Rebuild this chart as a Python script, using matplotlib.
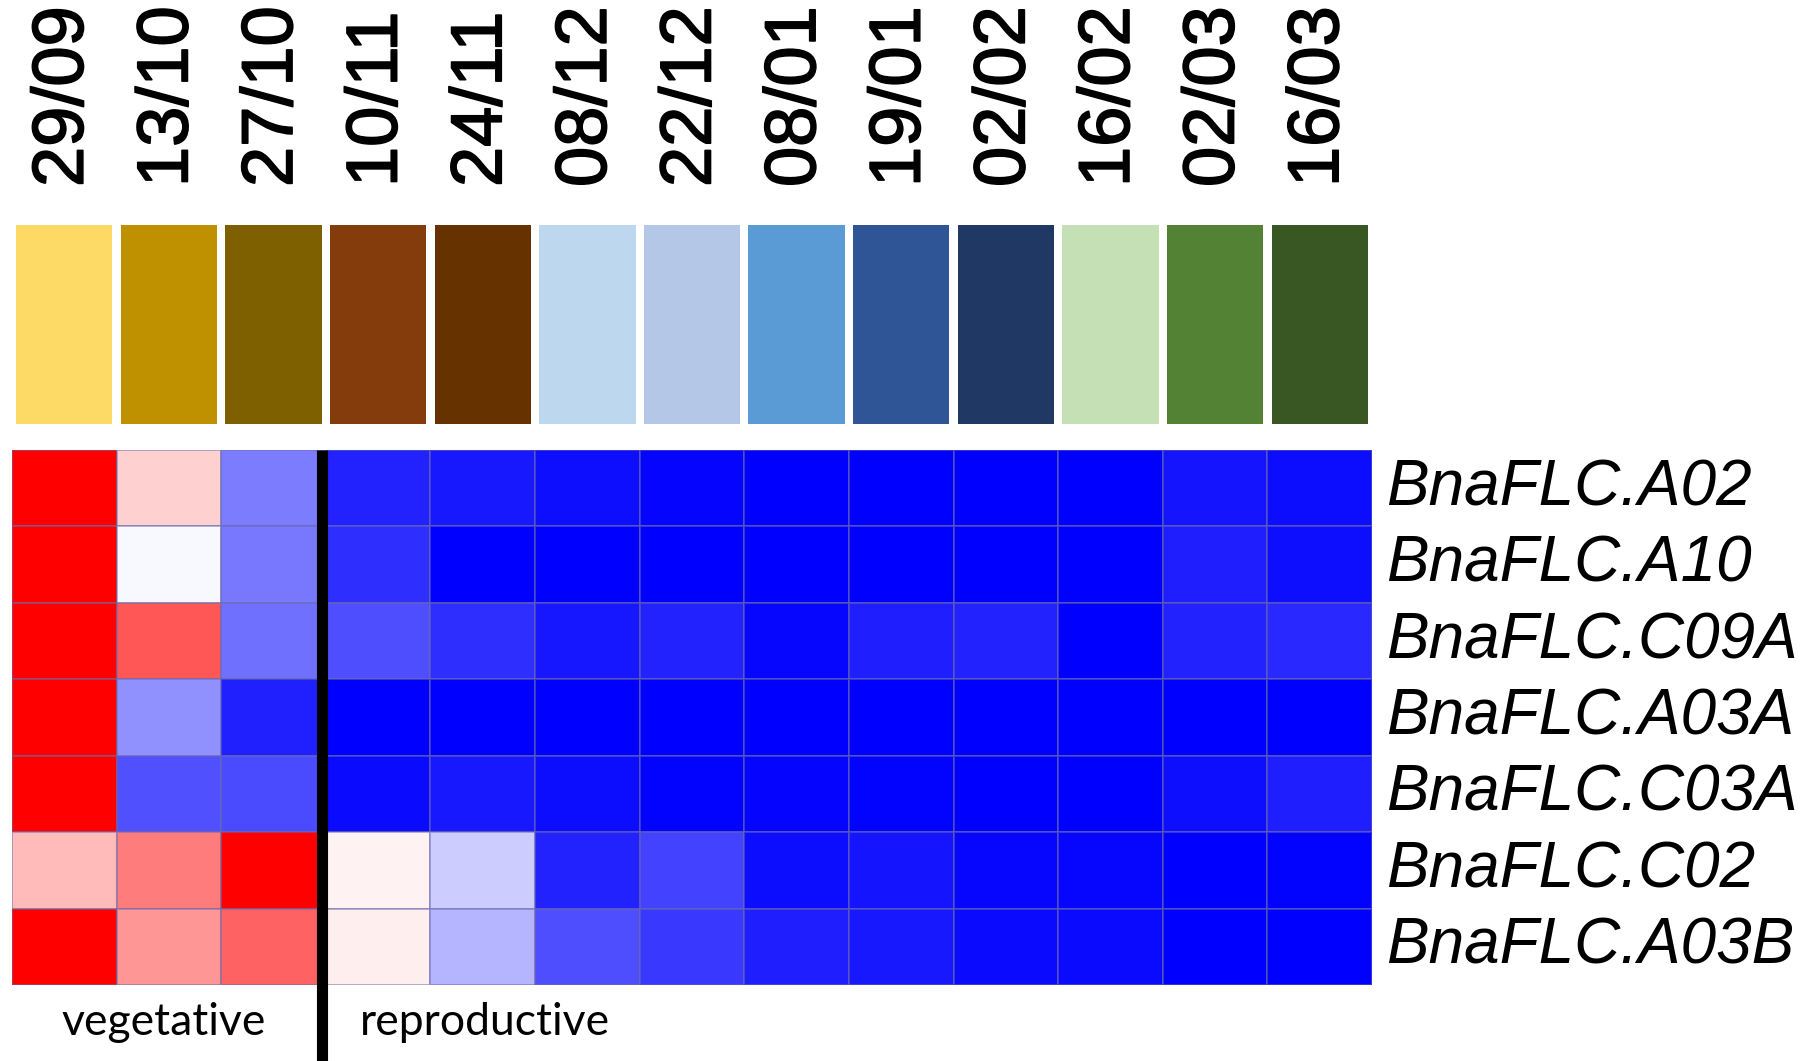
import matplotlib

matplotlib.use("Agg")
import matplotlib.pyplot as plt
import matplotlib.patheffects as pe
import numpy as np


# sampling dates (day/month) and the colour key used for each date
DATES = ["29/09", "13/10", "27/10", "10/11", "24/11", "08/12", "22/12",
         "08/01", "19/01", "02/02", "16/02", "02/03", "16/03"]
DATE_COLORS = ["#FDD966", "#BF9000", "#7F6000", "#843C0C", "#663300",
               "#BDD7EE", "#B4C7E7", "#5B9BD5", "#2F5597", "#203864",
               "#C5E0B4", "#548235", "#385723"]

GENES = ["BnaFLC.A02", "BnaFLC.A10", "BnaFLC.C09A", "BnaFLC.A03A",
         "BnaFLC.C03A", "BnaFLC.C02", "BnaFLC.A03B"]

# scaled relative expression, -1 (lowest) to 1 (highest), one row per gene
A02 = [1.0, 0.18, -0.51, -0.86, -0.90, -0.94, -0.98, -1.0, -1.0, -1.0, -1.0, -0.92, -0.95]
A10 = [1.0, -0.03, -0.53, -0.82, -1.0, -1.0, -1.0, -1.0, -1.0, -1.0, -1.0, -0.88, -0.94]
C09A = [1.0, 0.66, -0.56, -0.69, -0.82, -0.91, -0.86, -0.97, -0.88, -0.86, -1.0, -0.86, -0.84]
A03A = [1.0, -0.43, -0.87, -1.0, -1.0, -1.0, -1.0, -1.0, -1.0, -1.0, -1.0, -1.0, -1.0]
C03A = [1.0, -0.68, -0.71, -0.96, -0.90, -0.95, -0.99, -0.98, -0.99, -1.0, -1.0, -0.94, -0.88]
C02 = [0.27, 0.51, 1.0, 0.05, -0.20, -0.86, -0.74, -0.95, -0.92, -0.97, -0.97, -1.0, -0.99]
A03B = [1.0, 0.41, 0.61, 0.07, -0.29, -0.69, -0.78, -0.88, -0.90, -0.96, -0.96, -1.0, -1.0]

STAGES = ["vegetative", "reproductive"]
STAGE_SPLIT = 3  # first reproductive sample index

W, H = 1811, 1061
fig = plt.figure(figsize=(W / 100, H / 100), dpi=100)
fig.patch.set_facecolor("white")

n_dates = len(DATES)
expression = np.array([A02, A10, C09A, A03A, C03A, C02, A03B])

# colour key row
key_ax = fig.add_axes([12 / W, (H - 424) / H, 1360 / W, 199 / H])
key_ax.bar(np.arange(n_dates) + 0.5, 1, width=0.92, color=DATE_COLORS)
key_ax.set_xlim(0, n_dates)
key_ax.set_ylim(0, 1)
key_ax.axis("off")
heavier = [pe.withStroke(linewidth=1.2, foreground="black")]
for i, date in enumerate(DATES):
    key_ax.text(i + 0.5, 1 + 38 / 199, date, rotation=90, ha="center", va="bottom",
                fontsize=52, family="Liberation Sans", clip_on=False,
                path_effects=heavier)

# heatmap
heat_ax = fig.add_axes([12 / W, (H - 985) / H, 1360 / W, 535 / H])
heat_ax.pcolormesh(expression, cmap="bwr", vmin=-1, vmax=1,
                   edgecolors=(0.42, 0.42, 0.68, 0.5), linewidth=1.3)
heat_ax.set_xlim(0, n_dates)
heat_ax.set_ylim(len(GENES), 0)
heat_ax.axis("off")

for i, gene in enumerate(GENES):
    heat_ax.text(n_dates + 0.13, i + 0.5, gene, ha="left", va="center",
                 fontsize=46, style="italic", family="Liberation Sans", clip_on=False)

# vegetative / reproductive divider
heat_ax.plot([STAGE_SPLIT - 0.04] * 2, [0, len(GENES) + 1.05], color="black",
             lw=8, solid_capstyle="butt", clip_on=False)
heat_ax.text(1.45, 7.49, STAGES[0], ha="center", va="center",
             fontsize=32, family="Lato", clip_on=False)
heat_ax.text(4.52, 7.49, STAGES[1], ha="center", va="center",
             fontsize=32, family="Lato", clip_on=False)

fig.savefig("out.png", dpi=100, facecolor="white")
